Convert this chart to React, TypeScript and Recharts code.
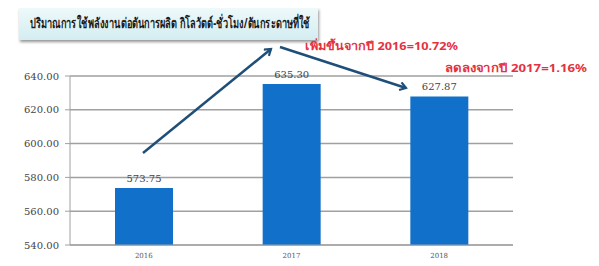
import React from 'react';
import { BarChart, Bar, XAxis, YAxis, CartesianGrid, LabelList } from 'recharts';

const years = ['2016', '2017', '2018'];
const energyPerTon = [573.75, 635.3, 627.87];
const yTicks = [540, 560, 580, 600, 620, 640];

const title = 'ปริมาณการใช้พลังงานต่อตันการผลิต กิโลวัตต์-ชั่วโมง/ตันกระดาษที่ใช้';
const noteUp = 'เพิ่มขึ้นจากปี 2016=10.72%';
const noteDown = 'ลดลงจากปี 2017=1.16%';

const data = years.map((year, i) => ({ year, value: energyPerTon[i] }));

const serif = 'DejaVu Serif';
const sans = 'Noto Sans';

export default function App() {
  return (
    <div style={{ position: 'relative', width: 599, height: 266, margin: -8, background: '#fff' }}>
      <BarChart
        width={599}
        height={266}
        data={data}
        margin={{ top: 76, right: 86, left: 0, bottom: 0 }}
        barCategoryGap={0}
      >
        <CartesianGrid vertical={false} stroke="#a0a0a0" strokeWidth={1.5} />
        <XAxis
          dataKey="year"
          height={21}
          stroke="#a0a0a0"
          tickLine={false}
          tickSize={4}
          tickMargin={4}
          tick={{ fontSize: 7, fill: '#555', fontFamily: serif }}
        />
        <YAxis
          width={70}
          domain={[540, 640]}
          ticks={yTicks}
          stroke="#a0a0a0"
          tickSize={5}
          tickMargin={6}
          tickFormatter={(v: number) => v.toFixed(2)}
          tick={{ fontSize: 10, fill: '#444', fontFamily: serif }}
        />
        <Bar dataKey="value" fill="#1170c9" barSize={58} isAnimationActive={false}>
          <LabelList
            dataKey="value"
            position="top"
            offset={6}
            formatter={(v: number) => v.toFixed(2)}
            fontFamily={serif}
            fontSize={10}
            fill="#444"
          />
        </Bar>
      </BarChart>
      <svg
        width={599}
        height={266}
        style={{ position: 'absolute', left: 0, top: 0, pointerEvents: 'none' }}
      >
        <defs>
          <linearGradient id="titleBg" x1="0" y1="0" x2="0" y2="1">
            <stop offset="0" stopColor="#eef9fa" />
            <stop offset="1" stopColor="#d3edf1" />
          </linearGradient>
          <filter id="shadow" x="-5%" y="-20%" width="110%" height="160%">
            <feDropShadow dx="1" dy="2" stdDeviation="1.5" floodColor="#666" floodOpacity="0.7" />
          </filter>
          <marker id="head" markerWidth="10" markerHeight="10" refX="7" refY="5" orient="auto" markerUnits="userSpaceOnUse">
            <polyline points="1,1 7,5 1,9" fill="none" stroke="#1f4e79" strokeWidth="2.2" />
          </marker>
        </defs>
        <rect x={19} y={8} width={299} height={32} fill="url(#titleBg)" filter="url(#shadow)" />
        <text
          x={30}
          y={28}
          fontSize={14}
          fontWeight="bold"
          fill="#1a1a1a"
          fontFamily={sans}
          textLength={280}
          lengthAdjust="spacingAndGlyphs"
        >
          {title}
        </text>
        <line x1={143} y1={153} x2={271} y2={49} stroke="#1f4e79" strokeWidth={2.5} markerEnd="url(#head)" />
        <line x1={280} y1={47} x2={406} y2={88} stroke="#1f4e79" strokeWidth={2.5} markerEnd="url(#head)" />
        <text
          x={305}
          y={50}
          fontSize={11}
          fontWeight="bold"
          fill="#e4323f"
          fontFamily={sans}
          textLength={153}
          lengthAdjust="spacingAndGlyphs"
        >
          {noteUp}
        </text>
        <text
          x={445}
          y={72}
          fontSize={11}
          fontWeight="bold"
          fill="#e4323f"
          fontFamily={sans}
          textLength={142}
          lengthAdjust="spacingAndGlyphs"
        >
          {noteDown}
        </text>
      </svg>
    </div>
  );
}
